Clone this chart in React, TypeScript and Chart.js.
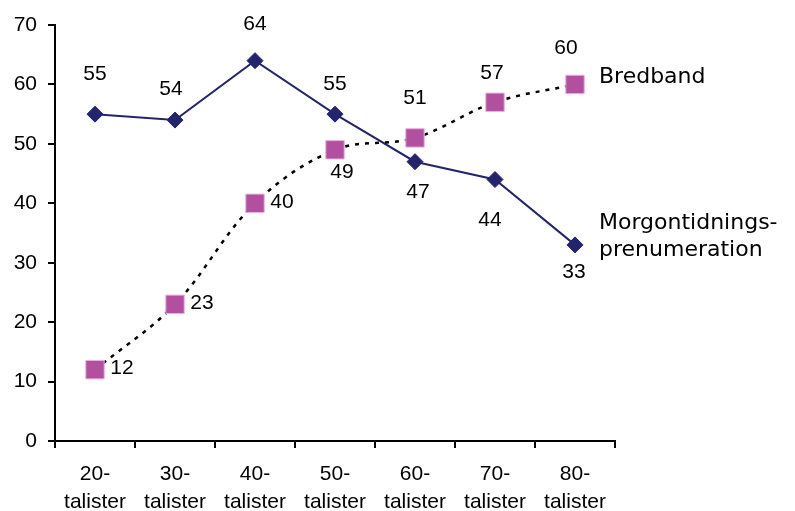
import React, { useEffect, useRef } from "react";
import { Chart, registerables } from "chart.js";

Chart.register(...registerables);

const categories: string[][] = [
  ["20-", "talister"],
  ["30-", "talister"],
  ["40-", "talister"],
  ["50-", "talister"],
  ["60-", "talister"],
  ["70-", "talister"],
  ["80-", "talister"],
];
const morgonValues = [55, 54, 64, 55, 47, 44, 33];
const bredbandValues = [12, 23, 40, 49, 51, 57, 60];
const morgonName = ["Morgontidnings-", "prenumeration"];
const bredbandName = ["Bredband"];

// label offsets (dx, dy) relative to each point, styling only
const morgonLabelOffsets = [
  [0, -40], [-4, -31], [0, -36], [0, -30], [3, 31], [-5, 41], [-1, 27],
];
const bredbandLabelOffsets = [
  [27, -1], [27, -1], [27, -1], [7, 22], [0, -40], [-3, -29], [-9, -36],
];

const NUM_FAMILY = "'Liberation Sans', Arial, Helvetica, sans-serif";
const NUM_FONT = "21px " + NUM_FAMILY;
const NAME_FONT = "22px 'DejaVu Sans', Verdana, sans-serif";

const labelPlugin = {
  id: "pointLabels",
  afterDatasetsDraw(chart: any) {
    const ctx = chart.ctx;
    ctx.save();
    ctx.fillStyle = "#000";
    ctx.textAlign = "center";
    ctx.textBaseline = "middle";
    ctx.font = NUM_FONT;
    chart.data.datasets.forEach((ds: any, di: number) => {
      const meta = chart.getDatasetMeta(di);
      const offs = ds.labelOffsets as number[][];
      meta.data.forEach((pt: any, i: number) => {
        const [dx, dy] = offs[i];
        ctx.fillText(String(ds.data[i]), pt.x + dx, pt.y + dy);
      });
      const last = meta.data[meta.data.length - 1];
      ctx.save();
      ctx.font = NAME_FONT;
      ctx.textAlign = "left";
      const lines = ds.nameLines as string[];
      const startDy = ds.nameDy as number;
      lines.forEach((ln: string, k: number) => {
        ctx.fillText(ln, last.x + 24, last.y + startDy + k * 27);
      });
      ctx.restore();
    });
    ctx.restore();
  },
};

export default function App() {
  const ref = useRef<HTMLCanvasElement | null>(null);
  useEffect(() => {
    let chart: any = null;
    let cancelled = false;
    const make = () => {
      if (cancelled || !ref.current) return;
      chart = new Chart(ref.current, {
        type: "line",
        data: {
          labels: categories as any,
          datasets: [
            {
              label: "Bredband",
              data: bredbandValues,
              borderColor: "#000000",
              borderWidth: 2.5,
              borderDash: [4, 6],
              tension: 0.35,
              pointStyle: "rect",
              pointRadius: 13,
              pointBackgroundColor: "#B24F9E",
              pointBorderColor: "#E6B3DC",
              pointBorderWidth: 1,
              clip: false,
              labelOffsets: bredbandLabelOffsets,
              nameLines: bredbandName,
              nameDy: -7,
            } as any,
            {
              label: "Morgontidningsprenumeration",
              data: morgonValues,
              borderColor: "#23246E",
              borderWidth: 2,
              tension: 0,
              pointStyle: "rectRot",
              pointRadius: 8,
              pointBackgroundColor: "#23246E",
              pointBorderColor: "#23246E",
              pointBorderWidth: 1,
              clip: false,
              labelOffsets: morgonLabelOffsets,
              nameLines: morgonName,
              nameDy: -22,
            } as any,
          ],
        },
        options: {
          responsive: false,
          animation: false,
          layout: { padding: { top: 25, right: 180, left: 0, bottom: 0 } },
          plugins: {
            legend: { display: false },
            tooltip: { enabled: false },
          },
          scales: {
            x: {
              offset: true,
              grid: {
                offset: true,
                drawOnChartArea: false,
                drawTicks: true,
                tickLength: 7,
                color: "#000",
                lineWidth: 2,
              },
              border: { color: "#000", width: 2 },
              ticks: {
                color: "#000",
                padding: 13,
                maxRotation: 0,
                autoSkip: false,
                font: { family: NUM_FAMILY, size: 21, lineHeight: 1.3 },
              },
              afterFit(scale: any) {
                scale.height = 70;
              },
            },
            y: {
              min: 0,
              max: 70,
              ticks: {
                stepSize: 10,
                color: "#000",
                padding: 11,
                font: { family: NUM_FAMILY, size: 21 },
              },
              grid: {
                drawOnChartArea: false,
                drawTicks: true,
                tickLength: 7,
                color: "#000",
                lineWidth: 2,
              },
              border: { color: "#000", width: 2 },
              afterFit(scale: any) {
                scale.width = 55;
              },
            },
          },
        },
        plugins: [labelPlugin],
      });
    };
    const fonts: any = (document as any).fonts;
    if (fonts && fonts.load) {
      Promise.all([fonts.load(NUM_FONT), fonts.load(NAME_FONT)])
        .catch(() => null)
        .then(make);
    } else {
      make();
    }
    return () => {
      cancelled = true;
      if (chart) chart.destroy();
    };
  }, []);
  return (
    <div style={{ position: "fixed", left: 0, top: 0, width: 795, height: 511, background: "#fff" }}>
      <canvas ref={ref} width={795} height={511} style={{ display: "block" }} />
    </div>
  );
}
